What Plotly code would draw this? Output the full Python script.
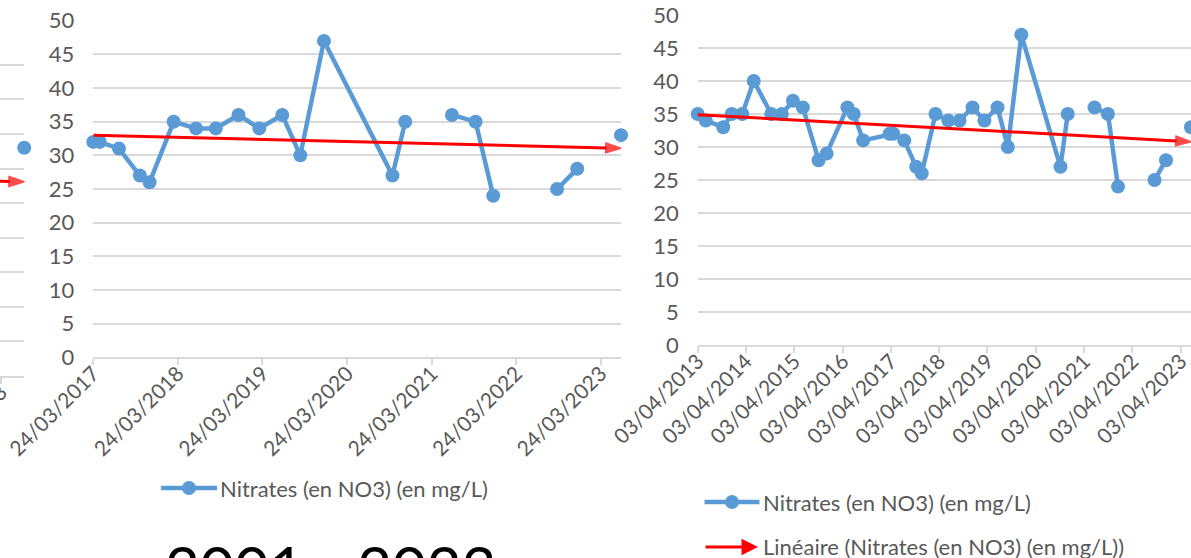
import plotly.graph_objects as go

W, H = 1191, 558

# ---------------- data ----------------
# 2017-2023 series (middle chart); None = empty cell (gap)
mid_dates = ["2017-03-24", "2017-04-21", "2017-07-13", "2017-10-11", "2017-11-22",
             "2018-03-06", "2018-06-11", "2018-09-04", "2018-12-11", "2019-03-11",
             "2019-06-18", "2019-09-04", "2019-12-15", "2020-10-06", "2020-11-30",
             "2021-03-15", "2021-06-20", "2021-09-30", "2021-12-15", "2022-05-15",
             "2022-09-17", "2022-12-13", "2023-03-15", "2023-06-20"]
mid_values = [32, 32, 31, 27, 26, 35, 34, 34, 36, 34, 36, 30, 47, 27, 35,
              None, 36, 35, 24, None, 25, 28, None, 33]

# 2013-2016 samples (only in right chart)
early_dates = ["2013-04-03", "2013-06-03", "2013-10-13", "2013-12-16", "2014-03-06",
               "2014-06-01", "2014-10-11", "2014-12-30", "2015-03-24", "2015-06-07",
               "2015-10-04", "2015-12-04", "2016-05-09", "2016-06-26", "2016-09-05"]
early_values = [35, 34, 33, 35, 35, 40, 35, 35, 37, 36, 28, 29, 36, 35, 31]

right_dates = early_dates + mid_dates
right_values = early_values + mid_values

# visible fragment of the left (2001-2023) chart
left_dates = ["2023-06-20"]
left_values = [33]

# linear trend lines (start / end values)
mid_trend_dates = ["2017-03-24", "2023-06-20"]
mid_trend_values = [33.0, 31.05]
right_trend_dates = ["2013-04-03", "2023-06-20"]
right_trend_values = [34.9, 30.8]
left_trend_dates = ["2001-03-08", "2023-06-20"]
left_trend_values = [30.5, 28.1]

# tick labels
mid_tick_dates = ["2017-03-24", "2018-03-24", "2019-03-24", "2020-03-24",
                  "2021-03-24", "2022-03-24", "2023-03-24"]
mid_tick_labels = ["24/03/2017", "24/03/2018", "24/03/2019", "24/03/2020",
                   "24/03/2021", "24/03/2022", "24/03/2023"]
right_tick_dates = ["2013-04-03", "2014-04-03", "2015-04-03", "2016-04-03",
                    "2017-04-03", "2018-04-03", "2019-04-03", "2020-04-03",
                    "2021-04-03", "2022-04-03", "2023-04-03"]
right_tick_labels = ["03/04/2013", "03/04/2014", "03/04/2015", "03/04/2016",
                     "03/04/2017", "03/04/2018", "03/04/2019", "03/04/2020",
                     "03/04/2021", "03/04/2022", "03/04/2023"]
left_tick_dates = ["2023-01-05"]
left_tick_labels = ["05/01/2023"]
y_tick_values = [0, 5, 10, 15, 20, 25, 30, 35, 40, 45, 50]

series_name = "Nitrates (en NO3) (en mg/L)"
trend_name = "Linéaire (Nitrates (en NO3) (en mg/L))"
period_label = "2001 - 2023"

# ---------------- styles ----------------
BLUE = "#5B9BD5"
RED = "#FF0000"
GRID = "#D9D9D9"
TXT = "#595959"
FONT = "Lato, 'Open Sans', sans-serif"
FS = 22
FS_X = 21


def px(x):
    return x / W


def py(y):
    return 1 - y / H


fig = go.Figure()


def add_series(xs, ys, xa, ya):
    fig.add_trace(go.Scatter(
        x=xs, y=ys, xaxis=xa, yaxis=ya, mode="lines+markers",
        line=dict(color=BLUE, width=4.5), marker=dict(size=14, color=BLUE),
        connectgaps=False, cliponaxis=False, showlegend=False, name=series_name))


def add_trend(xs, ys, xa, ya):
    fig.add_trace(go.Scatter(
        x=xs, y=ys, xaxis=xa, yaxis=ya, mode="lines+markers",
        line=dict(color=RED, width=3),
        marker=dict(symbol="arrow", angleref="previous", size=[0, 16], color=RED,
                    line=dict(color=RED, width=[0, 1.5])),
        cliponaxis=False, showlegend=False, name=trend_name))


add_series(mid_dates, mid_values, "x", "y")
add_series(right_dates, right_values, "x2", "y2")
add_series(left_dates, left_values, "x3", "y3")
add_trend(mid_trend_dates, mid_trend_values, "x", "y")
add_trend(right_trend_dates, right_trend_values, "x2", "y2")
add_trend(left_trend_dates, left_trend_values, "x3", "y3")


def xaxis_cfg(domain, rng, tv, tt):
    return dict(domain=domain, type="date", range=rng, tickvals=tv, ticktext=tt,
                tickangle=-45, tickfont=dict(family=FONT, size=FS_X, color=TXT),
                showgrid=False, zeroline=False,
                showline=True, linecolor=GRID, linewidth=1.5, ticks="outside",
                ticklen=6, tickcolor=GRID, tickwidth=1.5, fixedrange=True,
                automargin=False, ticklabeloverflow="allow", ticklabelstandoff=-12)


def yaxis_cfg(domain, anchor, labels=True):
    return dict(domain=domain, anchor=anchor, range=[0, 50], tickvals=y_tick_values,
                tickfont=dict(family=FONT, size=FS, color=TXT),
                showgrid=True, gridcolor=GRID, gridwidth=1.5,
                zeroline=False, showline=False, ticks="", showticklabels=labels,
                ticklabelstandoff=18, fixedrange=True, automargin=False)


fig.update_layout(
    width=W, height=H, margin=dict(l=0, r=0, t=0, b=0, pad=0, autoexpand=False),
    paper_bgcolor="white", plot_bgcolor="white",
    font=dict(family=FONT, color=TXT),
    xaxis=dict(anchor="y", **xaxis_cfg([px(93.3), px(621)],
                                        [mid_dates[0], mid_dates[-1]],
                                        mid_tick_dates, mid_tick_labels)),
    yaxis=yaxis_cfg([py(357.3), py(20.7)], "x"),
    xaxis2=dict(anchor="y2", **xaxis_cfg([px(697.7), 1.0],
                                          [right_dates[0], right_dates[-1]],
                                          right_tick_dates, right_tick_labels)),
    yaxis2=yaxis_cfg([py(345), py(15)], "x2"),
    xaxis3=dict(anchor="y3", **xaxis_cfg([0, px(24.2)],
                                          ["2022-12-28", left_dates[-1]],
                                          left_tick_dates, left_tick_labels)),
    yaxis3=yaxis_cfg([py(376), py(30.2)], "x3", labels=False),
)

# ---------------- legends (drawn) ----------------
shapes = []
annotations = []

# middle chart legend
shapes.append(dict(type="line", xref="paper", yref="paper", x0=px(161), x1=px(217),
                   y0=py(488), y1=py(488), line=dict(color=BLUE, width=4.5)))
shapes.append(dict(type="circle", xref="paper", yref="paper", x0=px(182), x1=px(196),
                   y0=py(495), y1=py(481), fillcolor=BLUE, line=dict(width=0)))
annotations.append(dict(text=series_name, xref="paper", yref="paper", x=px(218), y=py(488),
                        xanchor="left", yanchor="middle", showarrow=False,
                        font=dict(family=FONT, size=FS, color=TXT)))

# right chart legend
shapes.append(dict(type="line", xref="paper", yref="paper", x0=px(704.5), x1=px(759.5),
                   y0=py(502), y1=py(502), line=dict(color=BLUE, width=4.5)))
shapes.append(dict(type="circle", xref="paper", yref="paper", x0=px(725), x1=px(739),
                   y0=py(509), y1=py(495), fillcolor=BLUE, line=dict(width=0)))
annotations.append(dict(text=series_name, xref="paper", yref="paper", x=px(761), y=py(502),
                        xanchor="left", yanchor="middle", showarrow=False,
                        font=dict(family=FONT, size=FS, color=TXT)))
annotations.append(dict(text="", xref="paper", yref="paper", x=px(758), y=py(547),
                        ax=-54, ay=0, showarrow=True, arrowhead=2, arrowsize=1.1,
                        arrowwidth=3, arrowcolor=RED))
annotations.append(dict(text=trend_name, xref="paper", yref="paper", x=px(761), y=py(546),
                        xanchor="left", yanchor="middle", showarrow=False,
                        font=dict(family=FONT, size=FS, color=TXT)))

# large period caption (mostly cut off at the bottom)
annotations.append(dict(text=period_label, xref="paper", yref="paper", x=px(330), y=py(529),
                        xanchor="center", yanchor="top", showarrow=False,
                        font=dict(family=FONT, size=60, color="#000000")))

fig.update_layout(shapes=shapes, annotations=annotations)

fig.write_html("out.html",
               config={"displayModeBar": False},
               post_script="document.body.style.margin='0';"
                           "document.body.style.overflow='hidden';")
